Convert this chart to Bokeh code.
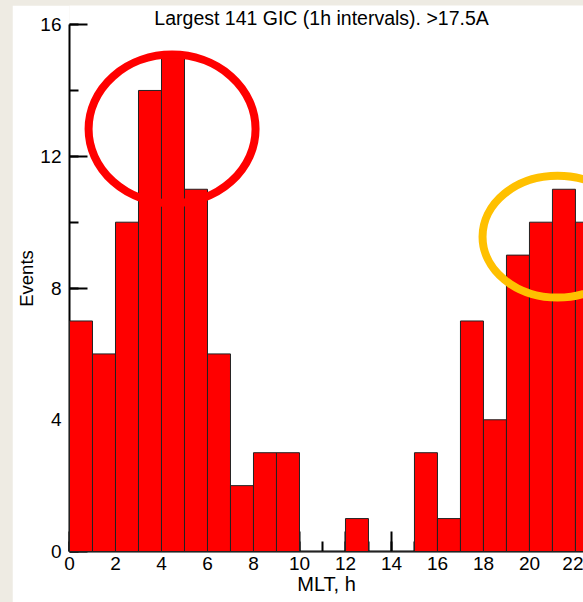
from bokeh.plotting import figure
from bokeh.models import Range1d, SingleIntervalTicker, Label, ColumnDataSource
from bokeh.embed import file_html
from bokeh.resources import INLINE

# ---- data ----
hours = list(range(24))
events = [7, 6, 10, 14, 15, 11, 6, 2, 3, 3, 0, 0, 1, 0, 0, 3, 1, 7, 4, 9, 10, 11, 10, 8]
title_text = "Largest 141 GIC (1h intervals). >17.5A"
x_label = "MLT, h"
y_label = "Events"

FONT = "Liberation Sans"

W, H = 571, 597
p = figure(width=W, height=H,
           x_range=Range1d(0, 22.35), y_range=Range1d(0, 16.58),
           output_backend="svg", toolbar_location=None,
           min_border_left=57, min_border_right=0,
           min_border_top=0, min_border_bottom=51)
p.margin = (5, 0, 0, 12)
p.background_fill_color = "white"
p.border_fill_color = "white"
p.outline_line_color = None
p.xgrid.visible = False
p.ygrid.visible = False

src = ColumnDataSource(dict(left=hours, right=[h + 1 for h in hours],
                            top=events, bottom=[0] * len(hours)))
p.quad(left="left", right="right", top="top", bottom="bottom", source=src,
       fill_color="#FF0000", line_color="#222222", line_width=1,
       level="annotation")

# highlight ellipses
p.ellipse(x=[4.46], y=[12.83], width=[7.26], height=[4.52],
          fill_color=None, line_color="#FF0000", line_width=8,
          level="annotation")
p.ellipse(x=[21.22], y=[9.56], width=[6.52], height=[3.70],
          fill_color=None, line_color="#FFC000", line_width=8,
          level="annotation")

# axes
p.xaxis.ticker = SingleIntervalTicker(interval=2, num_minor_ticks=2)
p.yaxis.ticker = SingleIntervalTicker(interval=4, num_minor_ticks=2)
p.yaxis.bounds = (0, 16)
for ax in (p.xaxis[0], p.yaxis[0]):
    ax.axis_line_color = "black"
    ax.axis_line_width = 2
    ax.major_tick_line_color = "black"
    ax.major_tick_line_width = 2
    ax.minor_tick_line_color = "black"
    ax.minor_tick_line_width = 2
    ax.major_tick_out = 0
    ax.minor_tick_out = 0
    ax.major_label_text_font = FONT
    ax.major_label_text_font_size = "19px"
    ax.major_label_text_color = "black"
    ax.axis_label_text_font = FONT
    ax.axis_label_text_font_style = "normal"
    ax.axis_label_text_color = "black"
p.xaxis.axis_label_text_font_size = "20px"
p.yaxis.axis_label_text_font_size = "18.5px"
p.xaxis.major_tick_in = 20
p.xaxis.minor_tick_in = 10
p.yaxis.major_tick_in = 18
p.yaxis.minor_tick_in = 9
p.xaxis.axis_label = x_label
p.yaxis.axis_label = y_label
p.xaxis.major_label_standoff = 5
p.xaxis.axis_label_standoff = 0
p.yaxis.major_label_standoff = 8
p.yaxis.axis_label_standoff = 0

p.add_layout(Label(x=10.96, y=16.21, text=title_text, text_align="center",
                   text_baseline="middle", text_font=FONT,
                   text_font_size="19.5px", text_color="black"))

html = file_html(p, INLINE)
style = ("<style>html, body { margin: 0 !important; padding: 0 !important; "
         "background-color: #EEEBE3 !important; }</style>")
html = html.replace("</head>", style + "</head>", 1)
open("out.html", "w").write(html)
